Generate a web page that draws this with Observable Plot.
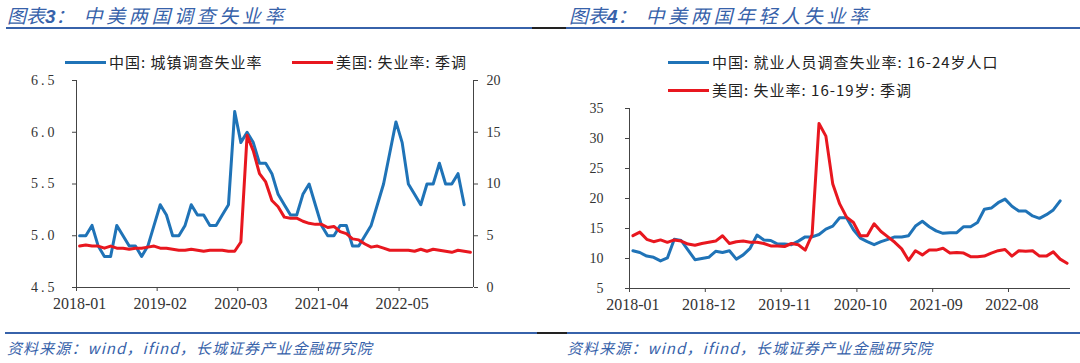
<!DOCTYPE html>
<html>
<head>
<meta charset="utf-8">
<script src="https://cdn.jsdelivr.net/npm/d3@7"></script>
<script src="https://cdn.jsdelivr.net/npm/@observablehq/plot@0.6"></script>
<style>
  html, body { margin: 0; padding: 0; background: #fff; }
  #root { position: relative; width: 1080px; height: 363px; overflow: hidden; background: #fff; }
  .title { position: absolute; top: 3px; font-family: "Noto Sans CJK SC", sans-serif; font-style: italic; font-size: 19px; line-height: 24px; color: #3762AA; white-space: nowrap; }
  .title b { font-family: "Liberation Sans", Arial, sans-serif; font-weight: bold; }
  .source { position: absolute; top: 338px; font-family: "Noto Sans CJK SC", sans-serif; font-style: italic; font-size: 15px; line-height: 20px; color: #3762AA; letter-spacing: 1.1px; white-space: nowrap; }
  .hline { position: absolute; height: 2px; }
  .legend { position: absolute; font-family: "Noto Sans CJK SC", sans-serif; font-size: 15px; line-height: 20px; color: #222; letter-spacing: 1px; white-space: nowrap; display: flex; align-items: center; }
  .legend .sw { display: inline-block; width: 41px; height: 3px; margin-right: 3px; }
  .chart { position: absolute; top: 30px; }
  .chart svg text { font-family: "Liberation Serif", "Times New Roman", serif !important; }
  #left g[aria-label="y-axis tick label"][text-anchor="end"] text { letter-spacing: 3px; }
</style>
</head>
<body>
<div id="root">
  <div class="title" style="left:7px">图表<b>3</b>：<span style="margin-left:9px;letter-spacing:3.6px">中美两国调查失业率</span></div>
  <div class="title" style="left:569px">图表<b>4</b>：<span style="margin-left:9px;letter-spacing:3.6px">中美两国年轻人失业率</span></div>

  <div class="hline" style="left:6px;width:526px;top:27px;background:#3762AA"></div>
  <div class="hline" style="left:532px;width:34px;top:27px;background:#222"></div>
  <div class="hline" style="left:566px;width:514px;top:27px;background:#3762AA"></div>

  <div class="hline" style="left:5px;width:532px;top:332px;background:#3762AA"></div>
  <div class="hline" style="left:537px;width:30px;top:332px;background:#222"></div>
  <div class="hline" style="left:567px;width:513px;top:332px;background:#3762AA"></div>

  <div id="left" class="chart" style="left:0px"></div>
  <div id="right" class="chart" style="left:540px"></div>

  <div class="legend" style="left:65px;top:52px"><span class="sw" style="background:#1F73B7"></span>中国: 城镇调查失业率</div>
  <div class="legend" style="left:292px;top:52px"><span class="sw" style="background:#E8171F"></span>美国: 失业率: 季调</div>
  <div class="legend" style="left:668px;top:52px"><span class="sw" style="background:#1F73B7"></span>中国: 就业人员调查失业率: 16-24岁人口</div>
  <div class="legend" style="left:668px;top:80px"><span class="sw" style="background:#E8171F"></span>美国: 失业率: 16-19岁: 季调</div>

  <div class="source" style="left:7px">资料来源：wind，ifind，长城证券产业金融研究院</div>
  <div class="source" style="left:567px">资料来源：wind，ifind，长城证券产业金融研究院</div>
</div>
<script>
// ---- Data: monthly, 2018-01 .. 2023-04 (64 categories) ----
const nMonths = 64;

// 图表3 — China urban surveyed unemployment rate (%), 2018-01 .. 2023-03
const cnUrban = [
  5.0,5.0,5.1,4.9,4.8,4.8,5.1,5.0,4.9,4.9,4.8,4.9,
  5.1,5.3,5.2,5.0,5.0,5.1,5.3,5.2,5.2,5.1,5.1,5.2,
  5.3,6.2,5.9,6.0,5.9,5.7,5.7,5.6,5.4,5.3,5.2,5.2,
  5.4,5.5,5.3,5.1,5.0,5.0,5.1,5.1,4.9,4.9,5.0,5.1,
  5.3,5.5,5.8,6.1,5.9,5.5,5.4,5.3,5.5,5.5,5.7,5.5,
  5.5,5.6,5.3
];
// US unemployment rate, SA (%), 2018-01 .. 2023-04 (right axis)
const usRate = [
  4.0,4.1,4.0,4.0,3.8,4.0,3.8,3.8,3.7,3.8,3.8,3.9,
  4.0,3.8,3.8,3.7,3.6,3.6,3.7,3.6,3.5,3.6,3.6,3.6,
  3.5,3.5,4.4,14.7,13.2,11.0,10.2,8.4,7.8,6.8,6.7,6.7,
  6.4,6.2,6.1,6.1,5.8,5.9,5.4,5.2,4.7,4.6,4.2,3.9,
  4.0,3.8,3.6,3.6,3.6,3.6,3.5,3.7,3.5,3.7,3.6,3.5,
  3.4,3.6,3.5,3.4
];
const leftTickIndex = [0, 13, 26, 39, 52];
const leftTickLabels = ["2018-01", "2019-02", "2020-03", "2021-04", "2022-05"];
const leftYTicks = [4.5, 5.0, 5.5, 6.0, 6.5];
const leftY2Ticks = [0, 5, 10, 15, 20];

// 图表4 — China 16-24 surveyed unemployment (%), 2018-01 .. 2023-03
const cnYouth = [
  11.3,11.0,10.4,10.2,9.6,10.1,13.2,13.0,11.4,9.8,10.0,10.2,
  11.2,11.0,11.3,9.9,10.6,11.7,13.9,13.1,13.0,12.4,12.4,12.3,
  12.9,13.6,13.6,14.0,14.9,15.4,16.8,
  16.8,14.8,13.4,12.8,12.3,12.8,13.2,13.6,13.6,13.8,15.4,16.2,
  15.3,14.6,14.2,14.3,14.3,15.3,15.3,16.0,18.2,18.4,19.3,19.9,
  18.7,17.9,17.9,17.1,16.7,17.3,18.1,19.6
];
// US unemployment rate 16-19, SA (%), 2018-01 .. 2023-04
const usTeen = [
  13.8,14.4,13.2,12.8,13.1,12.7,13.1,12.9,12.4,12.2,12.5,12.7,
  12.9,13.8,12.5,12.8,12.9,12.7,12.7,12.5,12.1,12.1,12.0,12.5,
  12.3,11.4,14.0,32.5,30.4,22.4,19.1,
  16.9,16.0,13.8,13.8,15.8,14.5,13.6,12.7,11.6,9.7,11.3,10.6,
  11.4,11.4,11.7,10.9,11.0,10.9,10.3,10.3,10.4,10.9,11.3,11.5,
  10.4,11.3,11.2,11.3,10.4,10.4,11.1,9.9,9.2
];
const rightTickIndex = [0, 11, 22, 33, 44, 55];
const rightTickLabels = ["2018-01", "2018-12", "2019-11", "2020-10", "2021-09", "2022-08"];
const rightYTicks = [5, 10, 15, 20, 25, 30, 35];

const BLUE = "#1F73B7", RED = "#E8171F", AXIS = "#444";
const SERIF = "Liberation Serif";
const baseStyle = {fontFamily: SERIF, fontSize: "14px", color: "#333", background: "transparent", overflow: "visible"};

// ---- Left chart (dual axis) ----
const y2 = d3.scaleLinear().domain([0, 20]).range([4.5, 6.5]); // right-axis value -> left-scale value
const leftLabel = new Map(leftTickIndex.map((t, k) => [t + 0.5, leftTickLabels[k]]));
const left = Plot.plot({
  width: 540, height: 300,
  marginLeft: 76, marginRight: 67, marginTop: 50, marginBottom: 43,
  x: {domain: [0, nMonths], axis: null},
  y: {domain: [4.5, 6.5], axis: null},
  style: baseStyle,
  marks: [
    Plot.axisY({ticks: leftYTicks, tickFormat: d => d.toFixed(1), tickSize: 4, tickPadding: 15, stroke: AXIS, fontFamily: SERIF, fontSize: 14}),
    Plot.axisY({anchor: "right", ticks: leftY2Ticks.map(y2), tickFormat: d => String(Math.round(y2.invert(d))), tickSize: 4, tickPadding: 9, stroke: AXIS, fontFamily: SERIF, fontSize: 14}),
    Plot.axisX({ticks: leftTickIndex, tickFormat: () => "", tickSize: 4, stroke: AXIS}),
    Plot.axisX({ticks: leftTickIndex.map(t => t + 0.5), tickFormat: d => leftLabel.get(d), tickSize: 0, tickPadding: 10, fontFamily: SERIF, fontSize: 16}),
    Plot.ruleX([0, nMonths], {stroke: AXIS}),
    Plot.ruleY([4.5], {stroke: AXIS}),
    Plot.lineY(cnUrban, {x: (d, i) => i + 0.5, y: d => d, stroke: BLUE, strokeWidth: 3}),
    Plot.lineY(usRate, {x: (d, i) => i + 0.5, y: d => y2(d), stroke: RED, strokeWidth: 3})
  ]
});
document.getElementById("left").appendChild(left);

// ---- Right chart ----
const rightLabel = new Map(rightTickIndex.map((t, k) => [t + 0.5, rightTickLabels[k]]));
const right = Plot.plot({
  width: 540, height: 300,
  marginLeft: 89, marginRight: 10, marginTop: 78, marginBottom: 42,
  x: {domain: [0, nMonths], axis: null},
  y: {domain: [5, 35], axis: null},
  style: baseStyle,
  marks: [
    Plot.axisY({ticks: rightYTicks, tickFormat: d => String(d), tickSize: 4, tickPadding: 22, stroke: AXIS, fontFamily: SERIF, fontSize: 14}),
    Plot.axisX({ticks: rightTickIndex, tickFormat: () => "", tickSize: 4, stroke: AXIS}),
    Plot.axisX({ticks: rightTickIndex.map(t => t + 0.5), tickFormat: d => rightLabel.get(d), tickSize: 0, tickPadding: 10, fontFamily: SERIF, fontSize: 16}),
    Plot.ruleX([0], {stroke: AXIS}),
    Plot.ruleY([5], {stroke: AXIS}),
    Plot.lineY(cnYouth, {x: (d, i) => i + 0.5, y: d => d, stroke: BLUE, strokeWidth: 3}),
    Plot.lineY(usTeen, {x: (d, i) => i + 0.5, y: d => d, stroke: RED, strokeWidth: 3})
  ]
});
document.getElementById("right").appendChild(right);
</script>
</body>
</html>
